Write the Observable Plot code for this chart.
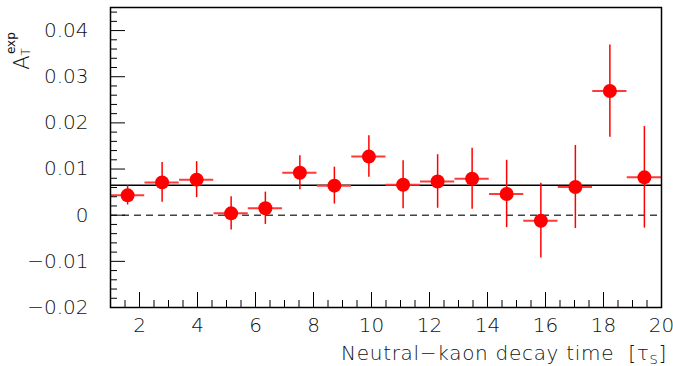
<!DOCTYPE html>
<html><head><meta charset="utf-8">
<script src="https://cdn.jsdelivr.net/npm/d3@7"></script>
<script src="https://cdn.jsdelivr.net/npm/@observablehq/plot@0.6"></script>
<style>body{margin:0;background:#fff} svg{display:block}</style>
</head><body><div id="chart"></div>
<script>
const xCenters = [1.59, 2.78, 3.97, 5.16, 6.34, 7.53, 8.72, 9.91, 11.09, 12.28, 13.47, 14.66, 15.84, 17.03, 18.22, 19.41];
const xHalfWidth = 0.59;
const yValues = [0.0043, 0.0071, 0.0077, 0.0004, 0.0015, 0.0092, 0.0064, 0.0127, 0.0066, 0.0073, 0.0079, 0.0046, -0.0012, 0.0061, 0.0269, 0.0082];
const yErrors = [0.0021, 0.0043, 0.0039, 0.0036, 0.0035, 0.0037, 0.0040, 0.0045, 0.0052, 0.0058, 0.0066, 0.0073, 0.0081, 0.0090, 0.0100, 0.0110];
const fitValue = 0.0065;
const xMajorTicks = [2, 4, 6, 8, 10, 12, 14, 16, 18, 20];
const xTickLabels = ["2", "4", "6", "8", "10", "12", "14", "16", "18", "20"];
const yMajorTicks = [-0.02, -0.01, 0, 0.01, 0.02, 0.03, 0.04];
const yTickLabels = ["\u22120.02", "\u22120.01", "0", "0.01", "0.02", "0.03", "0.04"];
const xLabelMain = "Neutral\u2212kaon decay time  [\u03c4";
const xLabelSub = "S";
const yLabelMain = "A";
const yLabelSub = "T";
const yLabelSup = "exp";

const data = xCenters.map((x, i) => ({x, y: yValues[i], e: yErrors[i]}));
const xMinor = d3.range(3, 40, 1).map(v => v / 2).filter(v => !xMajorTicks.includes(v));
const yMinor = d3.range(-20, 46, 2).map(v => v / 1000).filter(v => !yMajorTicks.some(m => Math.abs(m - v) < 1e-9));

const font = "'DejaVu Sans', sans-serif";
const textColor = "#111";

const plot = Plot.plot({
  width: 673, height: 366,
  marginLeft: 110, marginRight: 12, marginTop: 7, marginBottom: 59,
  style: {fontFamily: font, fontSize: "20px", background: "#fff", color: "#000", fontWeight: 200},
  x: {domain: [1, 20]},
  y: {domain: [-0.02, 0.045]},
  marks: [
    Plot.ruleY([0], {stroke: "#444", strokeDasharray: "7,5", strokeWidth: 1.5}),
    Plot.ruleY([fitValue], {stroke: "#000", strokeWidth: 1.5}),
    Plot.ruleY(data, {y: "y", x1: d => d.x - xHalfWidth, x2: d => d.x + xHalfWidth, stroke: "#ff3a3a", strokeWidth: 2}),
    Plot.ruleX(data, {x: "x", y1: d => d.y - d.e, y2: d => d.y + d.e, stroke: "red", strokeWidth: 1.5}),
    Plot.dot(data, {x: "x", y: "y", r: 7, fill: "red"}),
    Plot.axisX(xMajorTicks, {tickSize: -15, tickFormat: () => "", label: null}),
    Plot.axisX(xMinor, {tickSize: -7, tickFormat: () => "", label: null}),
    Plot.axisX(xMajorTicks, {tickSize: 0, tickPadding: 10, tickFormat: d => xTickLabels[xMajorTicks.indexOf(d)], label: null, fill: textColor}),
    Plot.axisY(yMajorTicks, {tickSize: -15, tickFormat: () => "", label: null}),
    Plot.axisY(yMinor, {tickSize: -7, tickFormat: () => "", label: null}),
    Plot.axisY(yMajorTicks, {tickSize: 0, tickPadding: 22, tickFormat: d => yTickLabels[yMajorTicks.indexOf(d)], label: null, fill: textColor}),
    Plot.frame({stroke: "#000", strokeWidth: 1.5})
  ]
});

document.getElementById("chart").appendChild(plot);
const svg = d3.select(plot);

const yl = svg.append("text")
  .attr("transform", "translate(29,51) rotate(-90)")
  .attr("font-family", font).attr("font-size", 21).attr("font-weight", 200).attr("fill", textColor);
yl.append("tspan").text(yLabelMain);
yl.append("tspan").attr("font-size", 12).attr("dy", 1).text(yLabelSub);
yl.append("tspan").attr("font-size", 12).attr("font-weight", 400).attr("dx", -6).attr("dy", -15).text(yLabelSup);

const xl = svg.append("text")
  .attr("x", 667).attr("y", 360).attr("text-anchor", "end")
  .attr("font-family", font).attr("font-size", 20).attr("font-weight", 200).attr("fill", textColor)
  .style("letter-spacing", "0.7px");
xl.append("tspan").text(xLabelMain);
xl.append("tspan").attr("font-size", 13).attr("dy", 4).text(xLabelSub);
xl.append("tspan").attr("dy", -4).text("]");
</script>
</body></html>
